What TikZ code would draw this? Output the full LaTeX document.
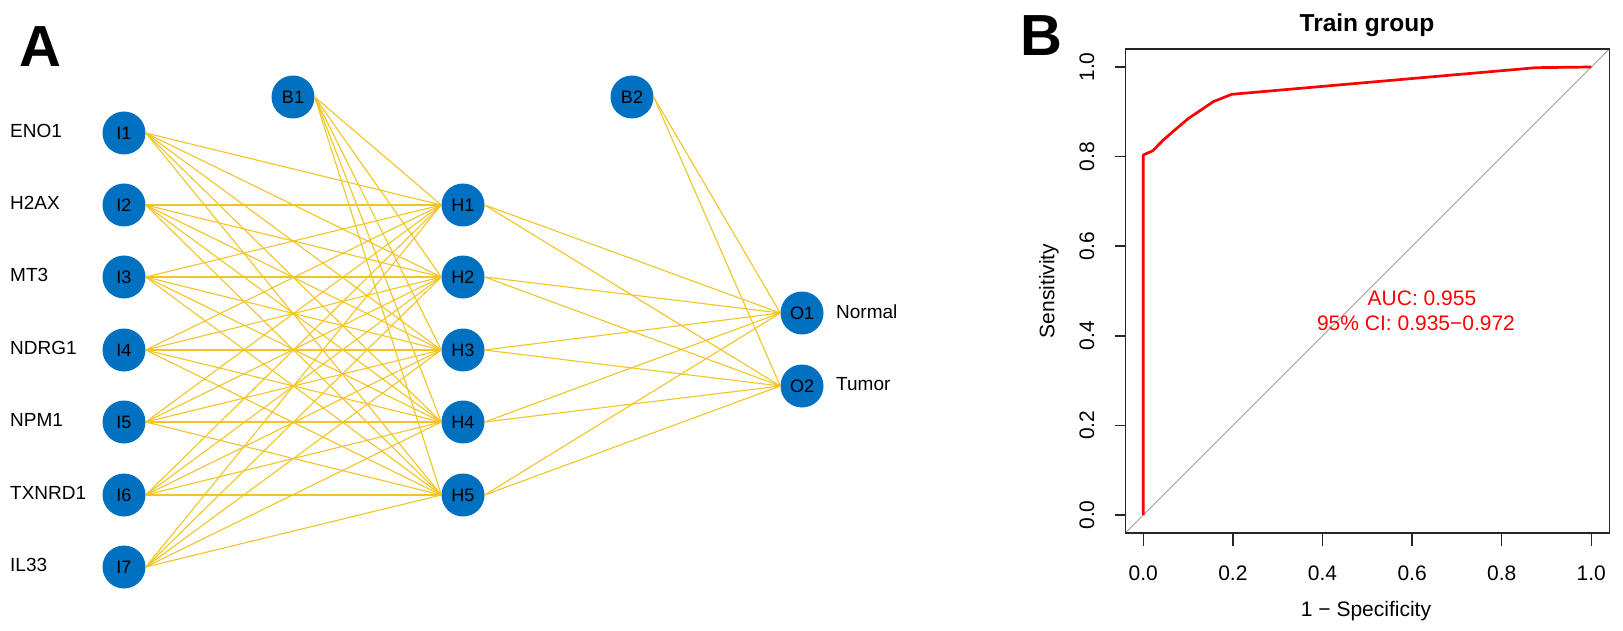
\documentclass[tikz,border=0pt]{standalone}
\usepackage{fontspec}
\setmainfont{Liberation Sans}
\definecolor{nodeblue}{RGB}{0,112,192}
\definecolor{edgeyel}{RGB}{242,196,36}
\definecolor{diaggray}{RGB}{160,160,160}
\begin{document}
\begin{tikzpicture}[x=1pt,y=-1pt,
  neuron/.style={circle,fill=nodeblue,minimum size=43pt,inner sep=0pt,font=\fontsize{18}{18}\selectfont},
  lbl/.style={anchor=west,inner sep=0pt,font=\fontsize{19}{19}\selectfont},
  conn/.style={edgeyel,line width=1.1pt},
  panel/.style={inner sep=0pt,font=\fontsize{58}{58}\selectfont\bfseries},
  ticklbl/.style={inner sep=0pt,font=\fontsize{21}{21}\selectfont},
  axlbl/.style={inner sep=0pt,font=\fontsize{21}{21}\selectfont},
  auctext/.style={inner sep=0pt,text=red,font=\fontsize{21}{21}\selectfont},
  plotbox/.style={black!85,line width=1.4pt},
  rocline/.style={red,line width=2.7pt,line join=round}]
\useasboundingbox (0,0) rectangle (1623,631);

% ---------------- Panel A ----------------
\node[panel] (pA) at (40,47) {A};

\foreach \i/\y/\g in {1/133/ENO1,2/205/H2AX,3/277/MT3,4/350/NDRG1,5/422/NPM1,6/495/TXNRD1,7/567/IL33}{
  \node[neuron] (I\i) at (124,\y) {I\i};
  \pgfmathsetmacro{\ly}{\y-2}
  \node[lbl] (L\i) at (10,\ly) {\g};
}
\foreach \h/\y in {1/205,2/277,3/350,4/422,5/495}{
  \node[neuron] (H\h) at (463,\y) {H\h};
}
\node[neuron] (B1) at (293,97) {B1};
\node[neuron] (B2) at (632,97) {B2};
\node[neuron] (O1) at (802,313) {O1};
\node[neuron] (O2) at (802,386) {O2};
\node[lbl] (LN) at (836,312) {Normal};
\node[lbl] (LT) at (836,384) {Tumor};

\foreach \i in {1,...,7}{
  \foreach \h in {1,...,5}{
    \draw[conn] (I\i.east) -- (H\h.west);
  }
}
\foreach \h in {1,...,5}{
  \draw[conn] (B1.east) -- (H\h.west);
  \foreach \o in {1,2}{
    \draw[conn] (H\h.east) -- (O\o.west);
  }
}
\foreach \o in {1,2}{
  \draw[conn] (B2.east) -- (O\o.west);
}

% ---------------- Panel B ----------------
\node[panel] (pB) at (1041,36) {B};
\node[inner sep=0pt,font=\fontsize{24.5}{24.5}\selectfont\bfseries] (title) at (1367,25) {Train group};

% axis ticks and labels
\foreach \v/\px [count=\k] in {0.0/1143.3,0.2/1232.9,0.4/1322.5,0.6/1412.1,0.8/1501.7,1.0/1591.3}{
  \draw[plotbox] (\px,532.9) -- (\px,546);
  \node[ticklbl] (xt\k) at (\px,573) {\v};
}
\foreach \v/\py [count=\k] in {0.0/515,0.2/425.4,0.4/335.8,0.6/246.2,0.8/156.6,1.0/67}{
  \draw[plotbox] (1125.4,\py) -- (1115,\py);
  \node[ticklbl,rotate=90] (yt\k) at (1087,\py) {\v};
}
\node[axlbl] (xlab) at (1366,611) {1 − Specificity};
\node[axlbl,rotate=90] (ylab) at (1049,291) {Sensitivity};

\begin{scope}[shift={(1143.3,515)},x=448pt,y=448pt]
  \draw[diaggray,line width=0.9pt] (-0.04,-0.04) -- (1.04,1.04);
  \draw[rocline] (0,0) -- (0,0.8036) -- (0.021,0.813) -- (0.0446,0.837) -- (0.0746,0.863)
     -- (0.1004,0.885) -- (0.1228,0.900) -- (0.156,0.9225) -- (0.197,0.939)
     -- (0.877,0.9985) -- (1,1);
  \draw[plotbox] (-0.04,-0.04) rectangle (1.04,1.04);
\end{scope}

\node[auctext] (auc) at (1422,298) {AUC: 0.955};
\node[auctext] (ci) at (1416,323) {95\% CI: 0.935−0.972};
\end{tikzpicture}
\end{document}
